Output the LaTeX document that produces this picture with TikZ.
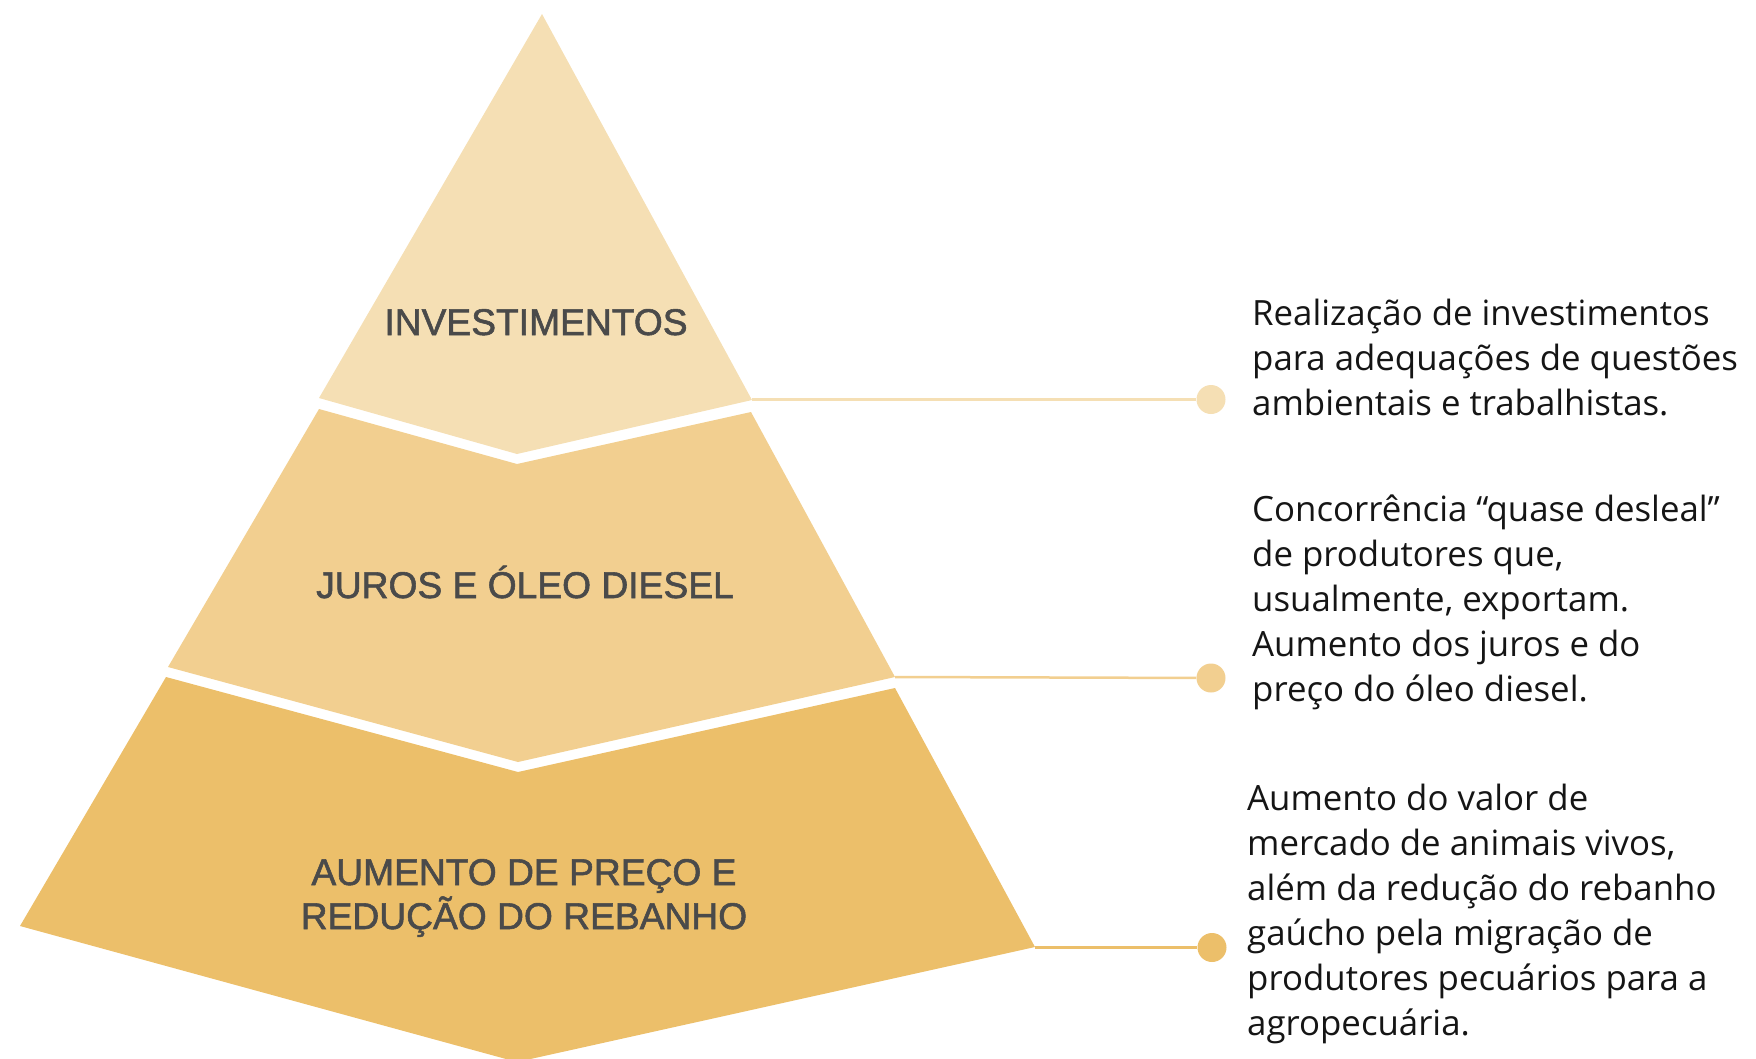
\documentclass[tikz,border=0pt]{standalone}
\usepackage{fontspec}
\setmainfont{Open Sans}
\newfontfamily\labelfont[FakeBold=1.5]{Liberation Sans}
\definecolor{lvA}{HTML}{F5DFB4}
\definecolor{lvB}{HTML}{F2CF90}
\definecolor{lvC}{HTML}{ECBF6A}
\definecolor{lbl}{HTML}{4A4A4A}
\definecolor{txt}{HTML}{151515}
\begin{document}
\begin{tikzpicture}[x=1pt,y=-1pt,
  lvl/.style={font=\labelfont\fontsize{37.2}{44}\selectfont, text=lbl, align=center, inner sep=0, anchor=base},
  desc/.style={font=\fontsize{34.8}{45}\selectfont, text=txt, align=left, inner sep=0, anchor=base west},
  dot/.style={circle, minimum size=29pt, inner sep=0},
  conn/.style={line width=2.5pt}]
\useasboundingbox (0,0) rectangle (1756,1058);
\begin{scope}
\clip (0,0) rectangle (1756,1058);
\fill[lvA] (542,14) -- (752,400) -- (517,454) -- (319,398) -- cycle;
\fill[lvB] (319,409) -- (517,464) -- (751,412) -- (895,677) -- (518,762) -- (168,667) -- cycle;
\fill[lvC] (166,677) -- (518,772) -- (895,688) -- (1035,947) -- (517,1062) -- (20,926) -- cycle;
\end{scope}
\node[lvl] (l1) at (536,335) {INVESTIMENTOS};
\node[lvl] (l2) at (525,598) {JUROS E ÓLEO DIESEL};
\node[lvl] (l3) at (524,929) {AUMENTO DE PREÇO E\\REDUÇÃO DO REBANHO};
\coordinate (c1) at (752,399.5);
\coordinate (c2) at (895,677);
\coordinate (c3) at (1035,947.5);
\node[dot, fill=lvA] (d1) at (1211,399.5) {};
\node[dot, fill=lvB] (d2) at (1211,678) {};
\node[dot, fill=lvC] (d3) at (1212,947.5) {};
\draw[conn, lvA] (c1) -- (d1);
\draw[conn, lvB] (c2) -- (d2);
\draw[conn, lvC] (c3) -- (d3);
\node[desc] (t1) at (1252,415) {Realização de investimentos\\para adequações de questões\\ambientais e trabalhistas.};
\node[desc] (t2) at (1252,701) {Concorrência “quase desleal”\\de produtores que,\\usualmente, exportam.\\Aumento dos juros e do\\preço do óleo diesel.};
\node[desc] (t3) at (1247,1035) {Aumento do valor de\\mercado de animais vivos,\\além da redução do rebanho\\gaúcho pela migração de\\produtores pecuários para a\\agropecuária.};
\end{tikzpicture}
\end{document}
